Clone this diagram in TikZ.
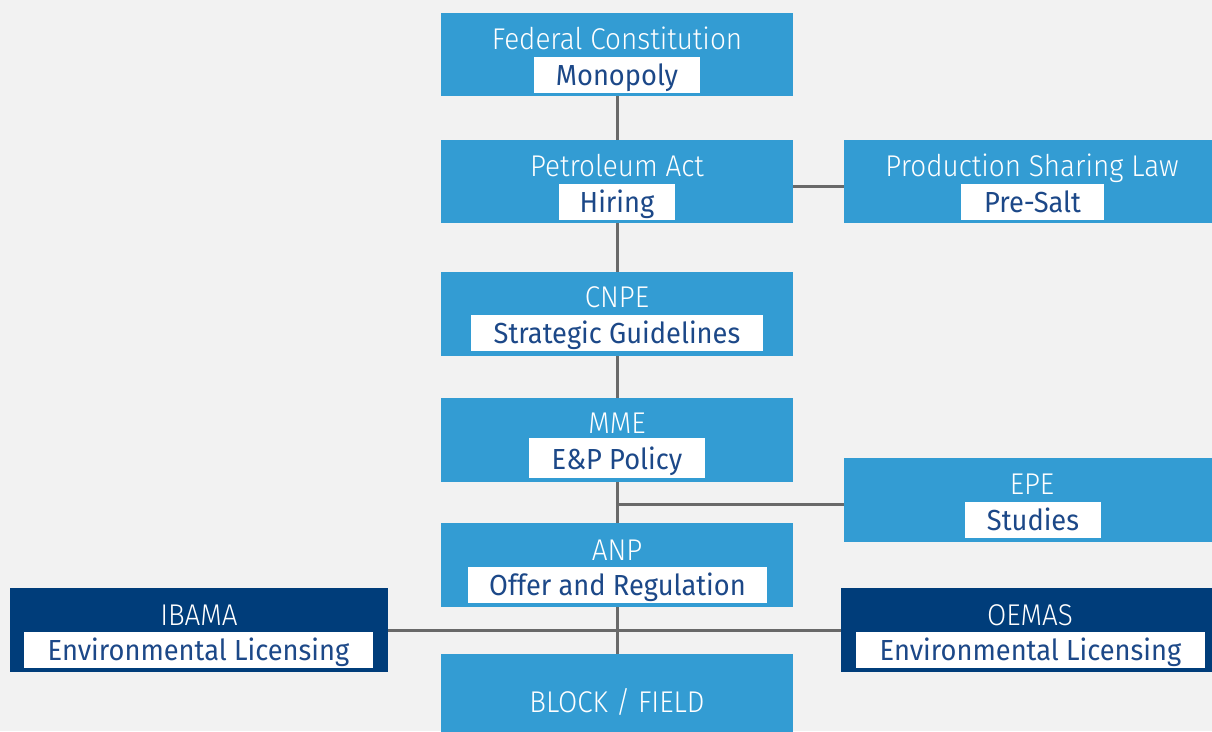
\documentclass[tikz,border=0pt]{standalone}
\usepackage{fontspec}
\newfontfamily\titlefont{Fira Sans Light}[FakeStretch=0.93]
\newfontfamily\subfont{Fira Sans}[FakeStretch=0.94]
\usetikzlibrary{calc}
\definecolor{bg}{RGB}{242,242,242}
\definecolor{lblue}{RGB}{51,156,211}
\definecolor{dblue}{RGB}{0,61,122}
\definecolor{subtxt}{RGB}{28,72,136}
\definecolor{linec}{RGB}{105,105,105}
\tikzset{
  box/.style={draw=none, rectangle, inner sep=0pt, anchor=north west},
  lbox/.style={box, fill=lblue},
  dbox/.style={box, fill=dblue},
  ttl/.style={anchor=base, inner sep=0pt, text=white, font=\titlefont\fontsize{30}{30}\selectfont},
  sub/.style={anchor=north, fill=white, inner sep=0pt, text=subtxt, minimum height=36pt,
     text height=25pt, text depth=5pt, font=\subfont\fontsize{29}{29}\selectfont},
  conn/.style={draw=linec, line width=3pt},
}
\begin{document}
\begin{tikzpicture}[x=1pt,y=-1pt]
\fill[bg] (0,0) rectangle (1212,731);
\useasboundingbox (0,0) rectangle (1212,731);

% boxes
\node[lbox, minimum width=352pt, minimum height=83pt] (fc) at (441,13) {};
\node[lbox, minimum width=352pt, minimum height=83pt] (pa) at (441,140) {};
\node[lbox, minimum width=368pt, minimum height=83pt] (psl) at (844,140) {};
\node[lbox, minimum width=352pt, minimum height=84pt] (cnpe) at (441,272) {};
\node[lbox, minimum width=352pt, minimum height=84pt] (mme) at (441,398) {};
\node[lbox, minimum width=368pt, minimum height=84pt] (epe) at (844,458) {};
\node[lbox, minimum width=352pt, minimum height=84pt] (anp) at (441,523) {};
\node[dbox, minimum width=378pt, minimum height=84pt] (ibama) at (10,588) {};
\node[dbox, minimum width=371pt, minimum height=84pt] (oemas) at (841,588) {};
\node[lbox, minimum width=352pt, minimum height=80pt] (blk) at (441,654) {};

% connectors
\coordinate (pslj) at ([yshift=-4.5pt]psl.west);
\coordinate (epej) at ([yshift=-4pt]epe.west);
\draw[conn] (fc.south) -- (pa.north);
\draw[conn] (pa.south) -- (cnpe.north);
\draw[conn] (cnpe.south) -- (mme.north);
\draw[conn] (mme.south) -- (anp.north);
\draw[conn] (anp.south) -- (blk.north);
\draw[conn] (pa.east |- pslj) -- (pslj);
\draw[conn] (mme.south |- epej) -- (epej);
\draw[conn] (ibama.east) -- (oemas.west);

% titles
\node[ttl] (fct) at (617,49) {Federal Constitution};
\node[ttl] (pat) at (617,176) {Petroleum Act};
\node[ttl] (pslt) at (1032,176) {Production Sharing Law};
\node[ttl] (cnpet) at (617,307) {CNPE};
\node[ttl] (mmet) at (617,433) {MME};
\node[ttl] (epet) at (1032,494) {EPE};
\node[ttl] (anpt) at (617,560) {ANP};
\node[ttl] (ibamat) at (199,625) {IBAMA};
\node[ttl] (oemast) at (1030,625) {OEMAS};
\node[ttl] (blkt) at (617,712) {BLOCK / FIELD};

% subtitles
\node[sub, minimum width=166pt] (fcs) at (617,57) {Monopoly};
\node[sub, minimum width=116pt] (pas) at (617,184) {Hiring};
\node[sub, minimum width=143pt] (psls) at (1032.5,184) {Pre-Salt};
\node[sub, minimum width=292pt] (cnpes) at (617,315) {Strategic Guidelines};
\node[sub, minimum width=176pt, minimum height=40pt, text height=28pt, text depth=6pt] (mmes) at (617,438) {E\&P Policy};
\node[sub, minimum width=136pt] (epes) at (1033,502) {Studies};
\node[sub, minimum width=299pt] (anps) at (617.5,567) {Offer and Regulation};
\node[sub, minimum width=349pt] (ibamas) at (198.5,632) {Environmental Licensing};
\node[sub, minimum width=349pt] (oemass) at (1030.5,632) {Environmental Licensing};
\end{tikzpicture}
\end{document}
